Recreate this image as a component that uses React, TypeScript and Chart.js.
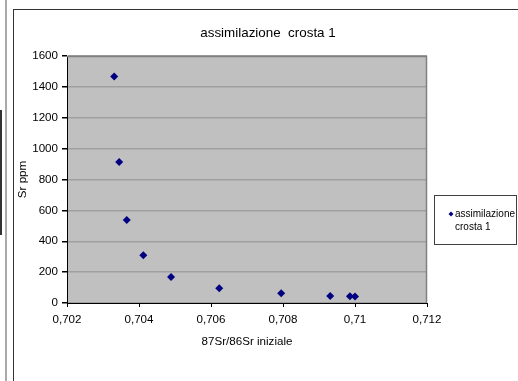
import React, { useEffect, useRef } from "react";
import { Chart, registerables } from "chart.js";

Chart.register(...registerables);

const chartTitle = "assimilazione  crosta 1";
const seriesLabel = "assimilazione crosta 1";
const legendLines = ["assimilazione", "crosta 1"];
const xAxisTitle = "87Sr/86Sr iniziale";
const yAxisTitle = "Sr ppm";
const xValues = [0.70331, 0.70345, 0.70366, 0.70412, 0.70489, 0.70623, 0.70795, 0.70931, 0.70986, 0.71];
const yValues = [1468, 913, 538, 309, 168, 95, 63, 45, 43, 42];
const xTickValues = [0.702, 0.704, 0.706, 0.708, 0.71, 0.712];
const xTickLabels = ["0,702", "0,704", "0,706", "0,708", "0,71", "0,712"];
const yTickLabels = ["0", "200", "400", "600", "800", "1000", "1200", "1400", "1600"];

const FONT = "'Liberation Sans', Arial, sans-serif";

export default function App() {
  const ref = useRef<HTMLCanvasElement | null>(null);
  useEffect(() => {
    if (!ref.current) return;
    const bgPlugin = {
      id: "bgPlugin",
      beforeDraw(chart: any) {
        const { ctx, chartArea: a } = chart;
        ctx.save();
        ctx.fillStyle = "#c0c0c0";
        ctx.fillRect(a.left, a.top, a.right - a.left, a.bottom - a.top);
        ctx.restore();
      },
      beforeDatasetsDraw(chart: any) {
        const { ctx, chartArea: a } = chart;
        ctx.save();
        ctx.strokeStyle = "#808080";
        ctx.lineWidth = 1.5;
        ctx.beginPath();
        ctx.moveTo(a.left, a.top + 0.5);
        ctx.lineTo(a.right - 0.5, a.top + 0.5);
        ctx.lineTo(a.right - 0.5, a.bottom);
        ctx.stroke();
        ctx.restore();
      },
      afterDraw(chart: any) {
        const { ctx } = chart;
        ctx.save();
        ctx.fillStyle = "#000";
        ctx.font = `13.4px ${FONT}`;
        ctx.textAlign = "center";
        ctx.textBaseline = "middle";
        ctx.fillText(chartTitle, 268, 33);
        // legend
        ctx.strokeStyle = "#404040";
        ctx.lineWidth = 1;
        ctx.strokeRect(434.5, 195.5, 82, 49);
        ctx.fillStyle = "#000080";
        const mx = 451, my = 214, r = 2.5;
        ctx.beginPath();
        ctx.moveTo(mx, my - r);
        ctx.lineTo(mx + r, my);
        ctx.lineTo(mx, my + r);
        ctx.lineTo(mx - r, my);
        ctx.closePath();
        ctx.fill();
        ctx.fillStyle = "#000";
        ctx.font = `10px ${FONT}`;
        ctx.textAlign = "left";
        ctx.fillText(legendLines[0], 455, 214);
        ctx.fillText(legendLines[1], 455, 227);
        ctx.restore();
      },
    };
    const chart = new Chart(ref.current, {
      type: "scatter",
      data: {
        datasets: [
          {
            label: seriesLabel,
            data: xValues.map((x, i) => ({ x, y: yValues[i] })),
            backgroundColor: "#000080",
            borderColor: "#000080",
            pointStyle: "rectRot",
            pointRadius: 4,
            borderWidth: 0,
          },
        ],
      },
      options: {
        animation: false,
        responsive: false,
        layout: { padding: { left: 14, top: 56, right: 91, bottom: 0 } },
        plugins: { legend: { display: false }, title: { display: false }, tooltip: { enabled: false } },
        scales: {
          x: {
            type: "linear",
            min: 0.702,
            max: 0.712,
            afterBuildTicks(scale: any) {
              scale.ticks = xTickValues.map((v) => ({ value: v }));
            },
            afterFit(scale: any) {
              scale.height = 78;
            },
            ticks: {
              color: "#000",
              font: { family: FONT, size: 11.6 },
              padding: 6,
              maxRotation: 0,
              callback: (v: any, i: number) => xTickLabels[i],
            },
            grid: { drawOnChartArea: false, drawTicks: true, tickLength: 4, color: "#000" },
            border: { color: "#000", width: 1 },
            title: {
              display: true,
              text: xAxisTitle,
              color: "#000",
              font: { family: FONT, size: 11.6 },
              padding: { top: 0, bottom: 32 },
            },
          },
          y: {
            type: "linear",
            min: 0,
            max: 1600,
            ticks: {
              stepSize: 200,
              color: "#000",
              font: { family: FONT, size: 11.6 },
              padding: 4,
              callback: (v: any, i: number) => yTickLabels[i],
            },
            afterFit(scale: any) {
              scale.width = 53;
            },
            grid: { color: "#a0a0a0", tickColor: "#000", tickLength: 5, lineWidth: 1.5 },
            border: { color: "#000", width: 1 },
            title: {
              display: true,
              text: yAxisTitle,
              color: "#000",
              font: { family: FONT, size: 11.6 },
              padding: { top: 2, bottom: 0 },
            },
          },
        },
      },
      plugins: [bgPlugin],
    });
    return () => chart.destroy();
  }, []);
  return (
    <div style={{ position: "fixed", left: 0, top: 0, width: 518, height: 381, background: "#fff", overflow: "hidden" }}>
      <canvas ref={ref} width={518} height={381} style={{ position: "absolute", left: 0, top: 0 }} />
      <div style={{ position: "absolute", left: 0, top: 110, width: 2, height: 125, background: "#333" }} />
      <div style={{ position: "absolute", left: 5, top: 0, width: 2, height: 381, background: "#aaa" }} />
      <div style={{ position: "absolute", left: 13, top: 9, width: 1, height: 372, background: "#333" }} />
      <div style={{ position: "absolute", left: 13, top: 9, width: 505, height: 1, background: "#333" }} />
    </div>
  );
}
